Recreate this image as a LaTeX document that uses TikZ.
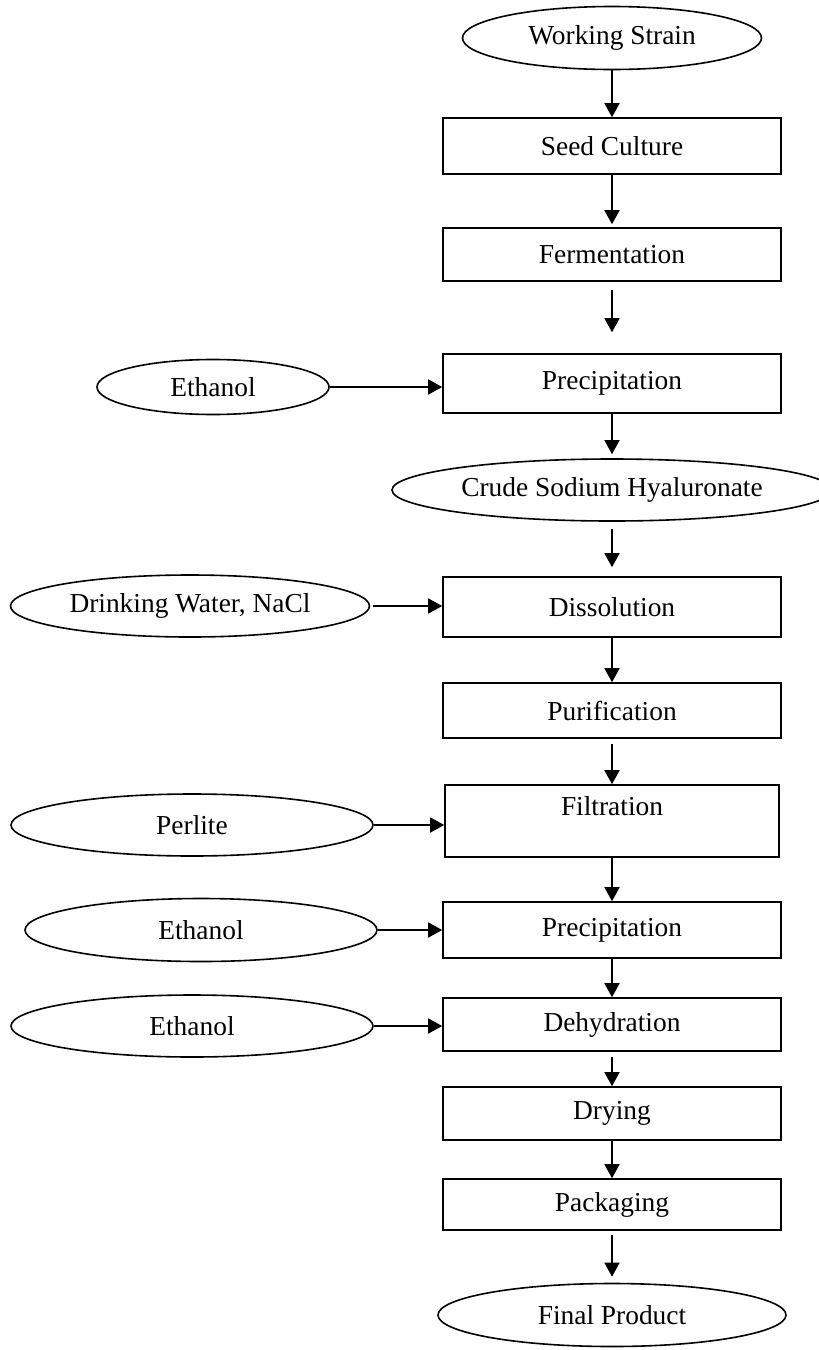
\documentclass[tikz,border=0pt]{standalone}
\usepackage{fontspec}
\setmainfont{Liberation Serif}
\usepackage{tikz}
\usetikzlibrary{arrows.meta,shapes.geometric}
\tikzset{
  procbox/.style  = {draw=black, line width=0.8pt, fill=white, inner sep=0pt,
                     minimum width=169pt, align=center},
  feedoval/.style = {ellipse, draw=black, line width=0.8pt, fill=white, inner sep=0pt},
  flow/.style     = {-{Triangle[length=7pt,width=7.5pt]}, draw=black, line width=0.8pt},
}

\begin{document}
\begin{tikzpicture}[x=0.5pt,y=-0.5pt,font=\fontsize{13.7}{16}\selectfont]
        \useasboundingbox (0,0) rectangle (819,1350);
        % main column
        \node[feedoval, minimum width=149.5pt, minimum height=31.5pt] (strain) at (612,38) {Working Strain};
        \node[procbox, minimum height=28pt] (seed) at (612,146) {Seed Culture};
        \node[procbox, minimum height=26.5pt] (ferm) at (612,254.5) {Fermentation};
        \node[procbox, minimum height=29.5pt] (prec) at (612,383.5) {Precipitation};
        \node[feedoval, minimum width=220pt, minimum height=31pt] (crude) at (612,490) {Crude Sodium Hyaluronate};
        \node[procbox, minimum height=30pt] (diss) at (612,607) {Dissolution};
        \node[procbox, minimum height=27.5pt] (puri) at (612,710.5) {Purification};
        \node[procbox, minimum width=167pt, minimum height=36pt, text height=10pt, text depth=16pt] (filt) at (612,821) {Filtration};
        \node[procbox, minimum height=28pt] (precb) at (612,930) {Precipitation};
        \node[procbox, minimum height=26.5pt] (dehy) at (612,1024.5) {Dehydration};
        \node[procbox, minimum height=26.5pt] (dry) at (612,1113.5) {Drying};
        \node[procbox, minimum height=25.5pt] (pack) at (612,1204.5) {Packaging};
        \node[feedoval, minimum width=174pt, minimum height=31.5pt] (final) at (612,1315) {Final Product};
        % feeds on the left
        \node[feedoval, minimum width=116pt, minimum height=27.5pt] (eth) at (213,387) {Ethanol};
        \node[feedoval, minimum width=179.5pt, minimum height=31pt] (water) at (190,606) {Drinking Water, NaCl};
        \node[feedoval, minimum width=181pt, minimum height=31pt] (perl) at (192,825) {Perlite};
        \node[feedoval, minimum width=176pt, minimum height=31.5pt] (ethb) at (201,930) {Ethanol};
        \node[feedoval, minimum width=181pt, minimum height=31pt] (ethc) at (192,1026) {Ethanol};
        % flow down
        \draw[flow] (strain) -- (seed);
        \draw[flow, shorten >=1.5pt] (seed) -- (ferm);
        \draw[flow, shorten <=4pt, shorten >=10.5pt] (ferm) -- (prec);
        \draw[flow, shorten >=2pt] (prec) -- (crude);
        \draw[flow, shorten <=3.5pt, shorten >=4.5pt] (crude) -- (diss);
        \draw[flow] (diss) -- (puri);
        \draw[flow, shorten <=2.5pt] (puri) -- (filt);
        \draw[flow] (filt) -- (precb);
        \draw[flow] (precb) -- (dehy);
        \draw[flow, shorten <=2.5pt] (dehy) -- (dry);
        \draw[flow] (dry) -- (pack);
        \draw[flow, shorten <=2pt, shorten >=3pt] (pack) -- (final);
        % feeds in
        \draw[flow] (eth) -- (eth -| prec.west);
        \draw[flow, shorten <=1.5pt] (water) -- (water -| diss.west);
        \draw[flow] (perl) -- (perl -| filt.west);
        \draw[flow] (ethb) -- (ethb -| precb.west);
        \draw[flow] (ethc) -- (ethc -| dehy.west);
      \end{tikzpicture}
\end{document}
